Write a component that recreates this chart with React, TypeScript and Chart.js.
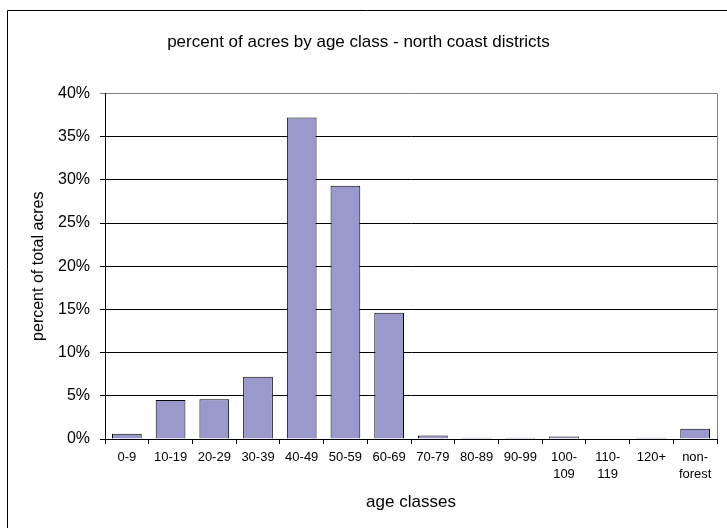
import React, { useEffect, useRef } from "react";
import { Chart, registerables } from "chart.js";

Chart.register(...registerables);

const categories: (string | string[])[] = [
  "0-9", "10-19", "20-29", "30-39", "40-49", "50-59", "60-69",
  "70-79", "80-89", "90-99", ["100-", "109"], ["110-", "119"], "120+", ["non-", "forest"],
];
const percentOfAcres = [0.6, 4.5, 4.6, 7.2, 37.2, 29.3, 14.6, 0.4, 0.15, 0.15, 0.3, 0, 0.15, 1.2];
const yTicks = [0, 5, 10, 15, 20, 25, 30, 35, 40];
const chartTitle = "percent of acres by age class - north coast districts";
const yTitle = "percent of total acres";
const xTitle = "age classes";

const FONT = "'Liberation Sans', Arial, sans-serif";

const framePlugin = {
  id: "frame",
  beforeDraw(chart: any) {
    const { ctx, width, height } = chart;
    ctx.save();
    ctx.fillStyle = "#ffffff";
    ctx.fillRect(0, 0, width, height);
    ctx.strokeStyle = "#000000";
    ctx.lineWidth = 1;
    ctx.beginPath();
    ctx.moveTo(7.5, height + 2);
    ctx.lineTo(7.5, 10.5);
    ctx.lineTo(width + 2, 10.5);
    ctx.stroke();
    ctx.restore();
  },
  afterDraw(chart: any) {
    const { ctx, chartArea } = chart;
    ctx.save();
    ctx.strokeStyle = "#808080";
    ctx.lineWidth = 1;
    ctx.beginPath();
    const x = Math.round(chartArea.right) + 0.5;
    ctx.moveTo(x, chartArea.top);
    ctx.lineTo(x, chartArea.bottom);
    ctx.stroke();
    ctx.restore();
  },
};

export default function App() {
  const ref = useRef<HTMLCanvasElement | null>(null);
  useEffect(() => {
    if (!ref.current) return;
    const chart = new Chart(ref.current, {
      type: "bar",
      data: {
        labels: categories as any,
        datasets: [
          {
            data: percentOfAcres,
            backgroundColor: "#9999cc",
            borderColor: "#000000",
            borderWidth: 1,
            barPercentage: 0.68,
            categoryPercentage: 1,
          },
        ],
      },
      options: {
        responsive: false,
        animation: false,
        layout: { padding: { top: 0, left: 0, right: 10, bottom: 0 } },
        plugins: {
          legend: { display: false },
          tooltip: { enabled: false },
          title: {
            display: true,
            text: chartTitle,
            color: "#000",
            font: { family: FONT, size: 17, weight: "normal", lineHeight: 1.2 },
            padding: { top: 32, bottom: 41 },
          },
        },
        scales: {
          x: {
            offset: true,
            border: { color: "#000", width: 1 },
            grid: { offset: true, drawOnChartArea: false, drawTicks: true, tickLength: 5, color: "#000" },
            ticks: {
              color: "#000",
              font: { family: FONT, size: 13, lineHeight: 1.3 },
              padding: 5,
              maxRotation: 0,
              autoSkip: false,
            },
            title: {
              display: true,
              text: xTitle,
              color: "#000",
              font: { family: FONT, size: 17, lineHeight: 1.2 },
              padding: { top: 0, bottom: 15 },
            },
            afterFit(scale: any) {
              scale.height = 89;
            },
          },
          y: {
            min: 0,
            max: 40,
            border: { color: "#000", width: 1 },
            grid: {
              color: (c: any) => (c.tick && c.tick.value === 40 ? "#808080" : "#000"),
              tickLength: 5,
              drawTicks: true,
            },
            afterBuildTicks(scale: any) {
              scale.ticks = yTicks.map((v) => ({ value: v }));
            },
            ticks: {
              color: "#000",
              font: { family: FONT, size: 16 },
              padding: 10,
              callback: (v: any) => v + "%",
            },
            title: {
              display: true,
              text: yTitle,
              color: "#000",
              font: { family: FONT, size: 16, lineHeight: 1.2 },
              padding: { top: 29, bottom: 0 },
            },
            afterFit(scale: any) {
              scale.width = 105;
            },
          },
        },
      },
      plugins: [framePlugin],
    });
    return () => chart.destroy();
  }, []);
  return (
    <div style={{ position: "absolute", left: 0, top: 0, width: 727, height: 528 }}>
      <canvas ref={ref} width={727} height={528} />
    </div>
  );
}
